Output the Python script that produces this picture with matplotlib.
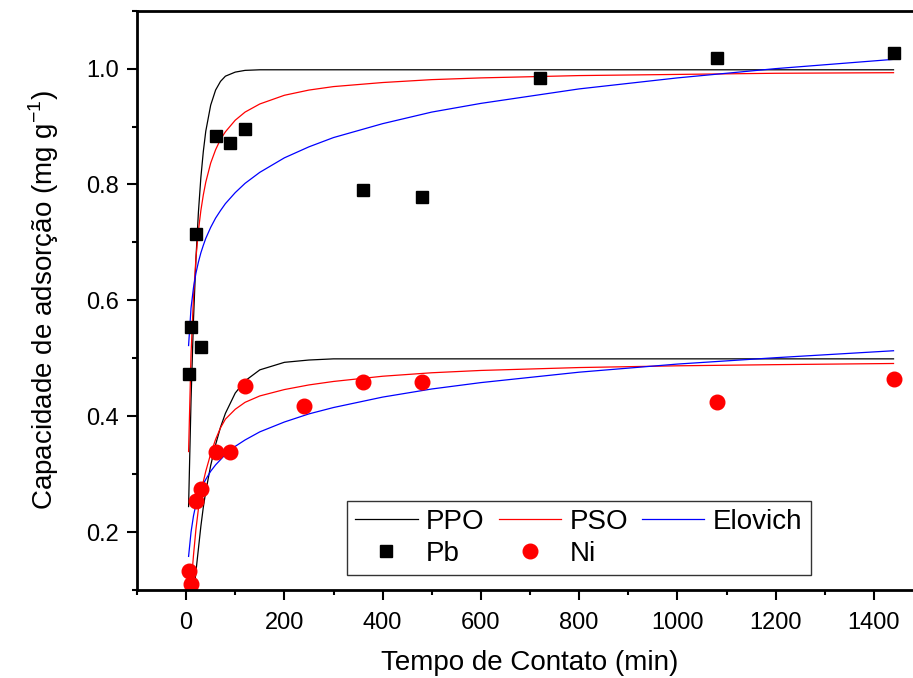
import matplotlib
matplotlib.use("Agg")
import matplotlib.pyplot as plt
import numpy as np
from matplotlib.ticker import MultipleLocator, FormatStrFormatter

# medidas experimentais (tempo em min, q em mg/g)
t_pb = [5, 10, 20, 30, 60, 90, 120, 360, 480, 720, 1080, 1440]
q_pb = [0.473, 0.554, 0.715, 0.519, 0.884, 0.872, 0.895, 0.791, 0.778, 0.984, 1.018, 1.027]

t_ni = [5, 10, 20, 30, 60, 90, 120, 240, 360, 480, 1080, 1440]
q_ni = [0.133, 0.111, 0.254, 0.274, 0.338, 0.338, 0.453, 0.418, 0.459, 0.459, 0.425, 0.464]

# curvas ajustadas dos modelos cineticos
t_fit = [5, 10, 15, 20, 25, 30, 35, 40, 50, 60, 70, 80, 100, 120, 150,
         200, 250, 300, 400, 500, 600, 800, 1000, 1200, 1440]

ppo_pb = [0.244, 0.428, 0.567, 0.672, 0.752, 0.812, 0.857, 0.892, 0.937, 0.963,
          0.978, 0.987, 0.994, 0.997, 0.998, 0.998, 0.998, 0.998, 0.998, 0.998,
          0.998, 0.998, 0.998, 0.998, 0.998]
pso_pb = [0.339, 0.507, 0.606, 0.673, 0.720, 0.755, 0.782, 0.804, 0.837, 0.860,
          0.878, 0.891, 0.911, 0.925, 0.939, 0.954, 0.963, 0.969, 0.976, 0.981,
          0.984, 0.988, 0.990, 0.992, 0.993]
elo_pb = [0.522, 0.587, 0.622, 0.647, 0.666, 0.682, 0.695, 0.707, 0.726, 0.742,
          0.755, 0.767, 0.786, 0.802, 0.821, 0.846, 0.865, 0.881, 0.905, 0.925,
          0.940, 0.965, 0.984, 1.000, 1.016]

ppo_ni = [np.nan, 0.038, 0.088, 0.132, 0.171, 0.210, 0.243, 0.270, 0.315, 0.351,
          0.381, 0.405, 0.440, 0.461, 0.480, 0.493, 0.497, 0.499, 0.499, 0.499,
          0.499, 0.499, 0.499, 0.499, 0.499]
pso_ni = [0.050, 0.108, 0.160, 0.205, 0.240, 0.265, 0.287, 0.305, 0.335, 0.360,
          0.380, 0.395, 0.412, 0.424, 0.435, 0.446, 0.454, 0.460, 0.469, 0.475,
          0.479, 0.484, 0.487, 0.489, 0.491]
elo_ni = [0.158, 0.200, 0.228, 0.248, 0.262, 0.273, 0.283, 0.291, 0.305, 0.316,
          0.325, 0.334, 0.348, 0.359, 0.373, 0.390, 0.404, 0.415, 0.433, 0.447,
          0.458, 0.476, 0.490, 0.501, 0.513]

plt.rcParams["font.family"] = ["Liberation Sans", "DejaVu Sans"]
plt.rcParams["mathtext.fontset"] = "custom"
plt.rcParams["mathtext.rm"] = "Liberation Sans"

fig = plt.figure(figsize=(9.13, 6.78), dpi=100)
ax = fig.add_axes([137 / 913, 88 / 678, 786 / 913, 579.3 / 678])

lw = 0.9
l_ppo, = ax.plot(t_fit, ppo_pb, color="black", lw=lw, label="PPO")
l_pso, = ax.plot(t_fit, pso_pb, color="red", lw=lw, label="PSO")
l_elo, = ax.plot(t_fit, elo_pb, color="blue", lw=lw, label="Elovich")
ax.plot(t_fit, ppo_ni, color="black", lw=lw)
ax.plot(t_fit, pso_ni, color="red", lw=lw)
ax.plot(t_fit, elo_ni, color="blue", lw=lw)

m_pb, = ax.plot(t_pb, q_pb, ls="none", marker="s", ms=9, color="black", label="Pb")
m_ni, = ax.plot(t_ni, q_ni, ls="none", marker="o", ms=10.5, color="red", label="Ni")

ax.set_xlim(-100, 1500)
ax.set_ylim(0.1, 1.1)
ax.xaxis.set_minor_locator(MultipleLocator(100))
ax.yaxis.set_minor_locator(MultipleLocator(0.1))
ax.yaxis.set_major_formatter(FormatStrFormatter("%.1f"))
ax.set_xticks([0, 200, 400, 600, 800, 1000, 1200, 1400])
ax.set_yticks([0.2, 0.4, 0.6, 0.8, 1.0])

ax.tick_params(which="both", direction="out", width=1.5, labelsize=17)
ax.tick_params(axis="x", pad=9)
ax.tick_params(axis="y", pad=6)
ax.tick_params(which="major", length=7)
ax.tick_params(which="minor", length=3.5)
for s in ax.spines.values():
    s.set_linewidth(2.0)
ax.spines["right"].set_visible(False)

ax.set_xlabel("Tempo de Contato (min)", fontsize=20, labelpad=11)
ax.set_ylabel("Capacidade de adsorção (mg g$^{\\mathregular{-1}}$)", fontsize=20, labelpad=18)

leg = ax.legend([l_ppo, m_pb, l_pso, m_ni, l_elo], ["PPO", "Pb", "PSO", "Ni", "Elovich"],
                ncol=3, loc="lower left", bbox_to_anchor=(0.267, 0.026),
                fontsize=20, frameon=True, fancybox=False, borderpad=0.3,
                handlelength=2.25, handletextpad=0.3, columnspacing=0.5,
                labelspacing=0.2, borderaxespad=0, numpoints=1)
leg.get_frame().set_edgecolor("black")
leg.get_frame().set_linewidth(1.0)

fig.savefig("out.png", dpi=100)
